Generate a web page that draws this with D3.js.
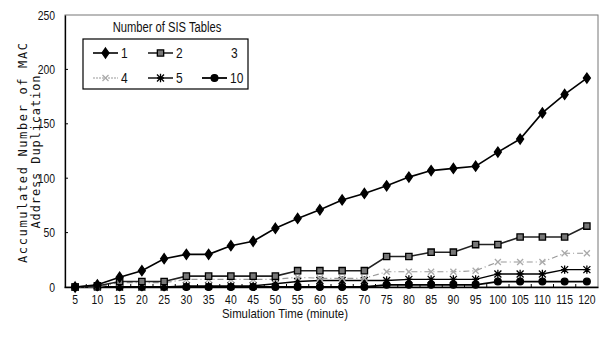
<!DOCTYPE html>
<html>
<head>
<meta charset="utf-8">
<script src="https://cdn.jsdelivr.net/npm/d3@7"></script>
<style>
  body { margin: 0; background: #fff; }
  svg text { font-family: "Liberation Sans Narrow", "Arial Narrow", "Liberation Sans", sans-serif; fill: #111; }
</style>
</head>
<body>
<div id="chart"></div>
<script>
// simulation time (minute)
var times = [5, 10, 15, 20, 25, 30, 35, 40, 45, 50, 55, 60, 65, 70, 75, 80, 85, 90, 95, 100, 105, 110, 115, 120];
var yTicks = [0, 50, 100, 150, 200, 250];

// accumulated number of MAC address duplication, per number of SIS tables
var tables1 = [0, 2, 9, 15, 26, 30, 30, 38, 42, 54, 63, 71, 80, 86, 93, 101, 107, 109, 111, 124, 136, 160, 177, 192];
var tables2 = [0, 1, 5, 5, 5, 10, 10, 10, 10, 10, 15, 15, 15, 15, 28, 28, 32, 32, 39, 39, 46, 46, 46, 56];
var tables4 = [0, 0, 4, 4, 4, 7, 7, 7, 7, 7, 9, 8, 8, 8, 14, 14, 14, 14, 15, 23, 23, 23, 31, 31];
var tables5 = [0, 0, 0, 0, 0, 1, 1, 1, 1, 3, 5, 6, 6, 6, 6, 7, 7, 7, 7, 12, 12, 12, 16, 16];
var tables10 = [0, 0, 0, 0, 0, 0, 0, 0, 0, 0, 0, 0, 0, 0, 2, 2, 2, 2, 2, 5, 5, 5, 5, 5];

var width = 603, height = 340;
var margin = { top: 15, right: 5, bottom: 53, left: 65 };

var svg = d3.select("#chart").append("svg")
  .attr("width", width).attr("height", height);

// squeeze text to look like a narrow face
function narrow(sel, k) {
  sel.each(function () {
    var w = this.getComputedTextLength();
    d3.select(this).attr("textLength", w * k).attr("lengthAdjust", "spacingAndGlyphs");
  });
}

var x = d3.scaleBand().domain(times).range([margin.left - 1, width - margin.right]);
var y = d3.scaleLinear().domain([0, 250]).range([height - margin.bottom, margin.top]);
var cx = function (t) { return x(t) + x.bandwidth() / 2; };

// plot frame
svg.append("rect")
  .attr("x", margin.left).attr("y", margin.top)
  .attr("width", width - margin.right - margin.left)
  .attr("height", height - margin.bottom - margin.top)
  .attr("fill", "none").attr("stroke", "#777").attr("stroke-width", 1);

// y axis
var yAxis = svg.append("g")
  .attr("transform", "translate(" + margin.left + ",0)")
  .call(d3.axisLeft(y).tickValues(yTicks).tickSize(0).tickPadding(10));
yAxis.select(".domain").attr("stroke", "#000").attr("stroke-width", 1.3);
yAxis.selectAll("text").style("font-size", "13px").call(narrow, 0.8);
svg.append("g").selectAll("line").data([50, 100, 150, 200]).enter().append("line")
  .attr("x1", margin.left).attr("x2", margin.left + 3)
  .attr("y1", function (d) { return y(d); }).attr("y2", function (d) { return y(d); })
  .attr("stroke", "#000");

// x axis
var xAxis = svg.append("g")
  .attr("transform", "translate(0," + (height - margin.bottom) + ")")
  .call(d3.axisBottom(x).tickSize(0).tickPadding(8));
xAxis.select(".domain").attr("stroke", "#000").attr("stroke-width", 1.3);
xAxis.selectAll("text").style("font-size", "13px").call(narrow, 0.8);
svg.append("g").selectAll("line").data(times.slice(1)).enter().append("line")
  .attr("x1", function (d) { return x(d); }).attr("x2", function (d) { return x(d); })
  .attr("y1", height - margin.bottom).attr("y2", height - margin.bottom - 3)
  .attr("stroke", "#000");

// axis titles
svg.append("text")
  .attr("x", 222).attr("y", 318)
  .attr("textLength", 126).attr("lengthAdjust", "spacingAndGlyphs")
  .style("font-size", "13px")
  .text("Simulation Time (minute)");

svg.append("text")
  .attr("transform", "translate(27,153) rotate(-90)")
  .attr("text-anchor", "middle")
  .attr("textLength", 220).attr("lengthAdjust", "spacing")
  .style("font-family", "'DejaVu Sans Mono', monospace").style("font-size", "12px")
  .text("Accumulated Number of MAC");
svg.append("text")
  .attr("transform", "translate(40,152) rotate(-90)")
  .attr("text-anchor", "middle")
  .attr("textLength", 153).attr("lengthAdjust", "spacing")
  .style("font-family", "'DejaVu Sans Mono', monospace").style("font-size", "12px")
  .text("Address Duplication");

// marker shapes
function asterisk(s) {
  var p = d3.path();
  p.moveTo(-s, -s); p.lineTo(s, s);
  p.moveTo(-s, s); p.lineTo(s, -s);
  p.moveTo(0, -s * 1.2); p.lineTo(0, s * 1.2);
  p.moveTo(-s, 0); p.lineTo(s, 0);
  return p.toString();
}
function cross(s) {
  var p = d3.path();
  p.moveTo(-s, -s); p.lineTo(s, s);
  p.moveTo(-s, s); p.lineTo(s, -s);
  return p.toString();
}
function diamond(w, h) {
  var p = d3.path();
  p.moveTo(0, -h); p.lineTo(w, 0); p.lineTo(0, h); p.lineTo(-w, 0); p.closePath();
  return p.toString();
}

var series = [
  { name: "1", values: tables1, color: "#000", width: 1.6, dash: null,
    marker: diamond(3.5, 5), fill: "#000", mstroke: "#000" },
  { name: "2", values: tables2, color: "#222", width: 1.6, dash: null,
    marker: d3.symbol().type(d3.symbolSquare).size(40)(), fill: "#777", mstroke: "#000" },
  { name: "4", values: tables4, color: "#999", width: 1.2, dash: "6,3,1,3",
    marker: cross(3), fill: "none", mstroke: "#aaa" },
  { name: "5", values: tables5, color: "#000", width: 1.4, dash: null,
    marker: asterisk(3.5), fill: "none", mstroke: "#000" },
  { name: "10", values: tables10, color: "#000", width: 1.8, dash: null,
    marker: d3.symbol().type(d3.symbolCircle).size(36)(), fill: "#000", mstroke: "#000" }
];

var line = d3.line()
  .x(function (d, i) { return cx(times[i]); })
  .y(function (d) { return y(d); });

series.slice().reverse().forEach(function (s) {
  var g = svg.append("g");
  g.append("path")
    .attr("d", line(s.values))
    .attr("fill", "none").attr("stroke", s.color)
    .attr("stroke-width", s.width).attr("stroke-dasharray", s.dash);
  g.selectAll("path.m").data(s.values).enter().append("path")
    .attr("class", "m")
    .attr("transform", function (d, i) { return "translate(" + cx(times[i]) + "," + y(d) + ")"; })
    .attr("d", s.marker)
    .attr("fill", s.fill).attr("stroke", s.mstroke).attr("stroke-width", 1.3);
});

// legend
svg.append("text")
  .attr("x", 167).attr("y", 32).attr("text-anchor", "middle")
  .style("font-size", "14px")
  .text("Number of SIS Tables")
  .call(narrow, 0.8);
svg.append("rect")
  .attr("x", 83).attr("y", 39).attr("width", 165).attr("height", 50)
  .attr("fill", "#fff").attr("stroke", "#000").attr("stroke-width", 1.2);

var legendItems = [
  { label: "1", s: series[0], lx: 93, ly: 53 },
  { label: "2", s: series[1], lx: 148, ly: 53 },
  { label: "3", s: null, lx: 203, ly: 53 },
  { label: "4", s: series[2], lx: 93, ly: 78 },
  { label: "5", s: series[3], lx: 148, ly: 78 },
  { label: "10", s: series[4], lx: 202, ly: 78 }
];
legendItems.forEach(function (it) {
  var g = svg.append("g");
  if (it.s) {
    g.append("line")
      .attr("x1", it.lx).attr("x2", it.lx + 25).attr("y1", it.ly).attr("y2", it.ly)
      .attr("stroke", it.s.color).attr("stroke-width", it.s.width)
      .attr("stroke-dasharray", it.s.dash ? "2,1" : null);
    g.append("path")
      .attr("transform", "translate(" + (it.lx + 12.5) + "," + it.ly + ")")
      .attr("d", it.s.marker)
      .attr("fill", it.s.fill).attr("stroke", it.s.mstroke).attr("stroke-width", 1.3);
  }
  g.append("text")
    .attr("x", it.label === "3" ? it.lx + 28 : it.lx + 28).attr("y", it.ly + 5)
    .style("font-size", "15px")
    .text(it.label)
    .call(narrow, 0.8);
});
</script>
</body>
</html>
